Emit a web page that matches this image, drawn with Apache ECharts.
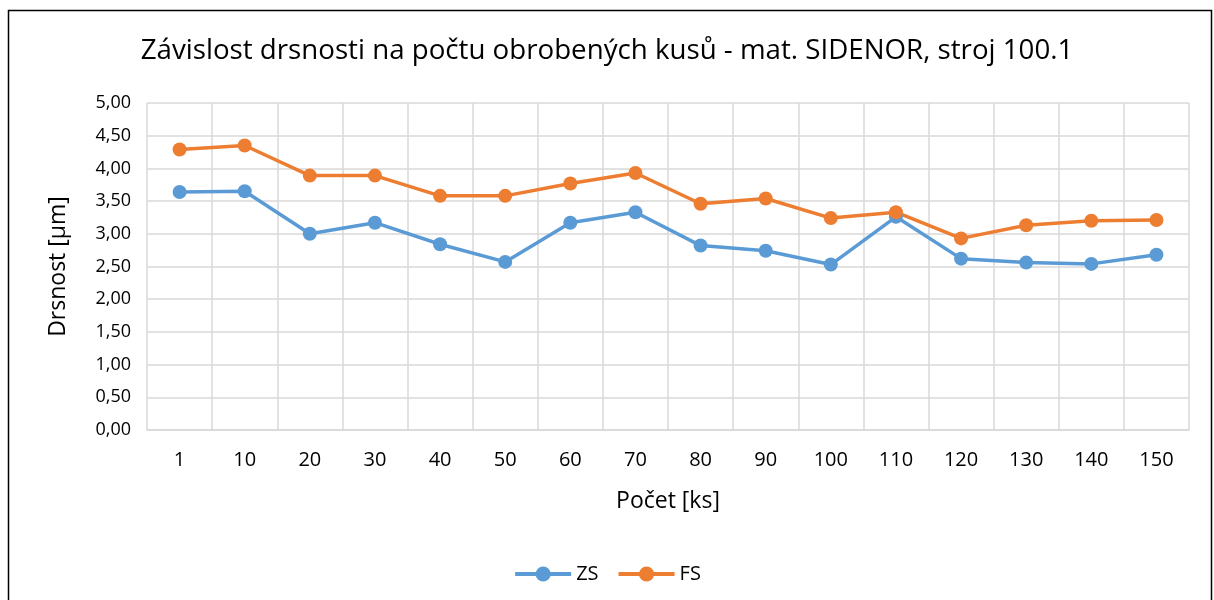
<!DOCTYPE html>
<html>
<head>
<meta charset="utf-8">
<style>
  html, body { margin: 0; padding: 0; background: #fff; }
  #chart { width: 1214px; height: 600px; }
</style>
<script src="https://cdn.jsdelivr.net/npm/echarts@6/dist/echarts.min.js"></script>
</head>
<body>
<div id="chart"></div>
<script>
const categories = ['1', '10', '20', '30', '40', '50', '60', '70', '80', '90', '100', '110', '120', '130', '140', '150'];
const zsValues = [3.64, 3.65, 3.00, 3.17, 2.84, 2.57, 3.17, 3.33, 2.82, 2.74, 2.53, 3.26, 2.62, 2.56, 2.54, 2.68];
const fsValues = [4.29, 4.35, 3.89, 3.89, 3.58, 3.58, 3.77, 3.93, 3.46, 3.54, 3.24, 3.33, 2.93, 3.13, 3.20, 3.21];

const font = '"Open Sans", Lato, sans-serif';
const gridColor = '#d9d9d9';

let myChart = echarts.init(document.getElementById('chart'));
myChart.setOption({
  animation: false,
  textStyle: { fontFamily: font },
  title: {
    text: 'Závislost drsnosti na počtu obrobených kusů - mat. SIDENOR, stroj 100.1',
    left: 'center',
    top: 32,
    textStyle: { color: '#000', fontSize: 27.7, fontWeight: 'normal', fontFamily: font }
  },
  graphic: [{
    type: 'rect',
    shape: { x: 8.5, y: 10.5, width: 1203, height: 620 },
    style: { fill: 'none', stroke: '#000', lineWidth: 1.5 },
    silent: true
  }],
  legend: {
    bottom: 11,
    left: 'center',
    itemWidth: 56,
    itemHeight: 19,
    itemGap: 18,
    lineStyle: { width: 4 },
    textStyle: { color: '#000', fontSize: 20, fontFamily: font },
    data: ['ZS', 'FS']
  },
  grid: { left: 147, right: 25, top: 103, bottom: 170 },
  xAxis: {
    type: 'category',
    data: categories,
    name: 'Počet [ks]',
    nameLocation: 'middle',
    nameGap: 60,
    nameTextStyle: { color: '#000', fontSize: 23, fontFamily: font },
    axisLine: { lineStyle: { color: gridColor, width: 1.5 } },
    axisTick: { show: false },
    axisLabel: { color: '#000', fontSize: 20, margin: 20, fontFamily: font },
    splitLine: { show: true, lineStyle: { color: gridColor, width: 1.5 } }
  },
  yAxis: {
    type: 'value',
    min: 0,
    max: 5,
    interval: 0.5,
    name: 'Drsnost [µm]',
    nameLocation: 'middle',
    nameGap: 77,
    nameTextStyle: { color: '#000', fontSize: 23, fontFamily: font },
    axisLine: { show: false },
    axisTick: { show: false },
    axisLabel: {
      color: '#000',
      fontSize: 18,
      margin: 16,
      fontFamily: font,
      formatter: function (v) { return v.toFixed(2).replace('.', ','); }
    },
    splitLine: { lineStyle: { color: gridColor, width: 1.5 } }
  },
  series: [{
    name: 'ZS',
    type: 'line',
    data: zsValues,
    symbol: 'circle',
    symbolSize: 14,
    itemStyle: { color: '#5b9bd5' },
    lineStyle: { color: '#5b9bd5', width: 3.5 }
  }, {
    name: 'FS',
    type: 'line',
    data: fsValues,
    symbol: 'circle',
    symbolSize: 14,
    itemStyle: { color: '#ed7d31' },
    lineStyle: { color: '#ed7d31', width: 3.5 }
  }]
});
</script>
</body>
</html>
